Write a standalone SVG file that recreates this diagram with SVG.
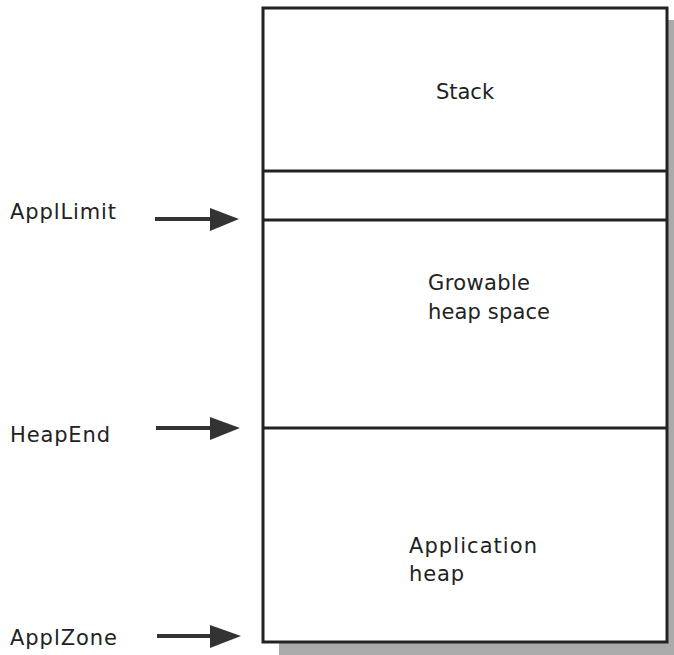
<svg xmlns="http://www.w3.org/2000/svg" width="674" height="655" viewBox="0 0 674 655">
<defs>
<style>
text{font-family:"DejaVu Sans","Liberation Sans",sans-serif;font-size:21px;fill:#222}
.b{fill:none;stroke:#222;stroke-width:3}
.d{stroke:#222;stroke-width:3}
.s{fill:#aaa}
.ar{stroke:#333;stroke-width:4}
.ah{fill:#333}
</style>
</defs>
<rect width="674" height="655" fill="#fff"/>
<g id="shadow">
<rect class="s" x="667" y="20" width="7" height="635"/>
<rect class="s" x="279" y="643" width="395" height="12"/>
</g>
<g id="memory">
<rect class="b" x="263" y="8" width="404" height="634" fill="#fff"/>
<line class="d" x1="263" y1="171" x2="667" y2="171"/>
<line class="d" x1="263" y1="220" x2="667" y2="220"/>
<line class="d" x1="263" y1="428" x2="667" y2="428"/>
</g>
<g id="stack"><text x="465" y="99" text-anchor="middle">Stack</text></g>
<g id="growable"><text x="428" y="290" textLength="102">Growable</text><text x="428" y="319" textLength="122">heap space</text></g>
<g id="appheap"><text x="409" y="553" textLength="128">Application</text><text x="409" y="581" textLength="55">heap</text></g>
<g id="labels">
<text x="10" y="219" textLength="106">ApplLimit</text>
<text x="10" y="442" textLength="100">HeapEnd</text>
<text x="10" y="645" textLength="107">ApplZone</text>
</g>
<g id="connectors">
<line class="ar" x1="155" y1="219" x2="215" y2="219"/><polygon class="ah" points="210,208 239,219 210,231"/>
<line class="ar" x1="156" y1="428" x2="215" y2="428"/><polygon class="ah" points="210,417 240,428 210,440"/>
<line class="ar" x1="157" y1="636" x2="215" y2="636"/><polygon class="ah" points="210,625 241,636 210,648"/>
</g>
</svg>
